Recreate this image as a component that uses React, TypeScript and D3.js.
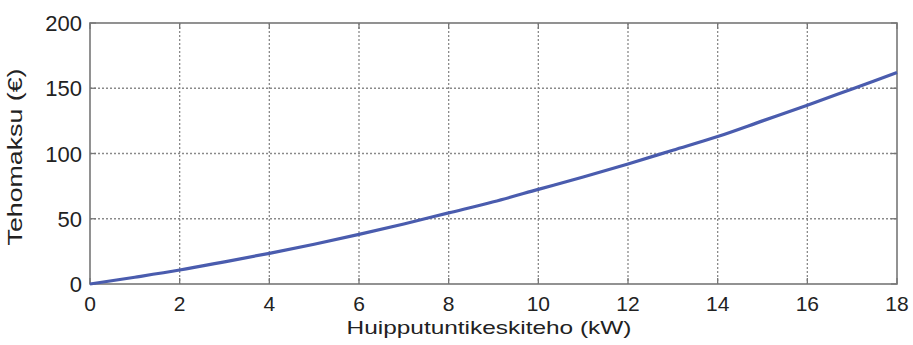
import React from "react";
import * as d3 from "d3";

const xValues = [0, 1, 2, 3, 4, 5, 6, 7, 8, 9, 10, 11, 12, 13, 14, 15, 16, 17, 18];
const yValues = [0, 5.2, 10.7, 17, 23.5, 30.5, 38, 46, 54.5, 63, 72.5, 82, 92, 102.5, 113, 125, 137, 149.5, 162];
const xTicks = [0, 2, 4, 6, 8, 10, 12, 14, 16, 18];
const yTicks = [0, 50, 100, 150, 200];
const xLabel = "Huipputuntikeskiteho (kW)";
const yLabel = "Tehomaksu (€)";

export default function App() {
  const W = 913, H = 345;
  const left = 90, right = 897, top = 23, bottom = 284;
  const x = d3.scaleLinear().domain([0, 18]).range([left, right]);
  const y = d3.scaleLinear().domain([0, 200]).range([bottom, top]);
  const line = d3.line<number>().x((_, i) => x(xValues[i])).y((d) => y(d)).curve(d3.curveMonotoneX);
  const font = "'Liberation Sans', Arial, sans-serif";
  const gridColor = "#8a8a8a";
  return (
    <svg width={W} height={H} style={{ position: "absolute", left: 0, top: 0, background: "#fff" }}>
      <rect x={0} y={0} width={W} height={H} fill="#fff" />
      {xTicks.slice(1, -1).map((t) => (
        <line key={"gx" + t} x1={x(t)} x2={x(t)} y1={top} y2={bottom} stroke={gridColor} strokeWidth={1.3} strokeDasharray="2,2" />
      ))}
      {yTicks.slice(1, -1).map((t) => (
        <line key={"gy" + t} x1={left} x2={right} y1={y(t)} y2={y(t)} stroke={gridColor} strokeWidth={1.3} strokeDasharray="2,2" />
      ))}
      {xTicks.map((t) => (
        <g key={"tx" + t}>
          <line x1={x(t)} x2={x(t)} y1={bottom} y2={bottom - 6} stroke="#777" strokeWidth={1.3} />
          <line x1={x(t)} x2={x(t)} y1={top} y2={top + 6} stroke="#777" strokeWidth={1.3} />
        </g>
      ))}
      {yTicks.map((t) => (
        <g key={"ty" + t}>
          <line x1={left} x2={left + 6} y1={y(t)} y2={y(t)} stroke="#777" strokeWidth={1.3} />
          <line x1={right} x2={right - 6} y1={y(t)} y2={y(t)} stroke="#777" strokeWidth={1.3} />
        </g>
      ))}
      <rect x={left} y={top} width={right - left} height={bottom - top} fill="none" stroke="#777" strokeWidth={1.6} />
      <path d={line(yValues) || ""} fill="none" stroke="#4a5cae" strokeWidth={3.2} />
      {xTicks.map((t) => (
        <text key={"lx" + t} x={x(t)} y={311} textAnchor="middle" fontFamily={font} fontSize={21} fill="#222">
          {t}
        </text>
      ))}
      {yTicks.map((t) => (
        <text key={"ly" + t} x={82} y={y(t) + 8} textAnchor="end" fontFamily={font} fontSize={22} fill="#222">
          {t}
        </text>
      ))}
      <text x={489} y={334} textAnchor="middle" fontFamily={font} fontSize={19} fill="#222" textLength={285} lengthAdjust="spacingAndGlyphs">
        {xLabel}
      </text>
      <text transform="translate(22,157) rotate(-90)" textAnchor="middle" fontFamily={font} fontSize={21} fill="#222" textLength={177} lengthAdjust="spacingAndGlyphs">
        {yLabel}
      </text>
    </svg>
  );
}
